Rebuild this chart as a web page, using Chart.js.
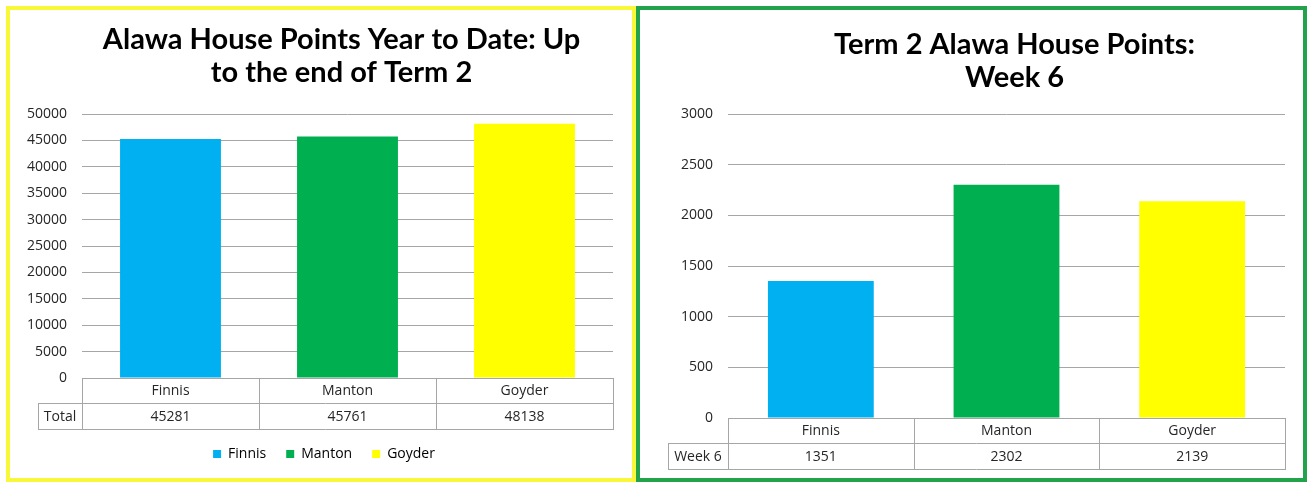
<!DOCTYPE html>
<html>
<head>
<meta charset="utf-8">
<script src="https://cdn.jsdelivr.net/npm/chart.js@4.4.0/dist/chart.umd.min.js"></script>
<style>
  html, body { margin: 0; padding: 0; background: #ffffff; }
  body { width: 1311px; height: 484px; position: relative; overflow: hidden; }
  canvas { position: absolute; top: 0; }
  .frame { position: absolute; box-sizing: border-box; pointer-events: none; }
</style>
</head>
<body>
<canvas id="c1" width="636" height="484" style="left:0px"></canvas>
<canvas id="c2" width="675" height="484" style="left:636px"></canvas>
<div class="frame" style="left:6px;top:6px;width:630px;height:476px;border:4px solid #f9f73a;"></div>
<div class="frame" style="left:636px;top:6px;width:671px;height:476px;border:4px solid #23a24c;"></div>
<script>
// ---- data ----
const categories = ['Finnis', 'Manton', 'Goyder'];
const houseColors = ['#00b0f0', '#00b050', '#ffff00'];
const totalValues = [45281, 45761, 48138];
const week6Values = [1351, 2302, 2139];
const title1 = ['Alawa House Points Year to Date: Up', 'to the end of Term 2'];
const title2 = ['Term 2 Alawa House Points:', 'Week 6'];
const rowLabel1 = 'Total';
const rowLabel2 = 'Week 6';

const gridColor = '#a6a6a6';
const textColor = '#262626';
const tickFont = { family: "'Open Sans', sans-serif", size: 14 };
const tableFontStr = "14px 'Open Sans', sans-serif";

// Title drawn centred over the plot area
const titlePlugin = {
  id: 'plotTitle',
  afterDraw(chart, args, opts) {
    const { ctx, chartArea } = chart;
    const cx = (chartArea.left + chartArea.right) / 2;
    ctx.save();
    ctx.fillStyle = '#000000';
    ctx.font = opts.font;
    ctx.textAlign = 'center';
    ctx.textBaseline = 'middle';
    opts.lines.forEach((l, i) => ctx.fillText(l, cx + opts.dx, opts.y0 + i * opts.lineGap));
    ctx.restore();
  }
};

// Nudge the legend horizontally
const legendShift = {
  id: 'legendShift',
  afterLayout(chart, args, opts) {
    if (chart.legend && opts.dx) {
      chart.legend.left += opts.dx;
      chart.legend.right += opts.dx;
    }
  }
};

// Data table under the plot (Excel style)
const tablePlugin = {
  id: 'dataTable',
  afterDraw(chart, args, opts) {
    const { ctx, chartArea } = chart;
    const { left, right, bottom } = chartArea;
    const xs = chart.scales.x;
    const vals = chart.data.datasets[0].data;
    const labels = chart.data.labels;
    const r1 = bottom + opts.rowH1;
    const r2 = r1 + opts.rowH2;
    const L = opts.labelLeft;
    const n = labels.length;
    const colW = (right - left) / n;
    const p = v => Math.round(v) + 0.5;
    ctx.save();
    ctx.strokeStyle = gridColor;
    ctx.lineWidth = 1;
    ctx.beginPath();
    ctx.moveTo(left, p(bottom)); ctx.lineTo(right, p(bottom));
    ctx.moveTo(L, p(r1)); ctx.lineTo(right, p(r1));
    ctx.moveTo(L, p(r2)); ctx.lineTo(right, p(r2));
    for (let i = 0; i <= n; i++) {
      const x = p(left + i * colW);
      ctx.moveTo(x, Math.round(bottom)); ctx.lineTo(x, Math.round(r2) + 1);
    }
    ctx.moveTo(p(L), Math.round(r1)); ctx.lineTo(p(L), Math.round(r2) + 1);
    ctx.stroke();
    ctx.fillStyle = textColor;
    ctx.font = tableFontStr;
    ctx.textAlign = 'center';
    ctx.textBaseline = 'middle';
    labels.forEach((lab, i) => {
      const x = xs.getPixelForValue(i);
      ctx.fillText(lab, x, (bottom + r1) / 2 + 1);
      ctx.fillText(String(vals[i]), x, (r1 + r2) / 2 + 1);
    });
    ctx.fillText(opts.rowLabel, (L + left) / 2, (r1 + r2) / 2 + 1);
    ctx.restore();
  }
};

function makeChart(id, values, yMax, yStep, cfg) {
  return new Chart(document.getElementById(id), {
    type: 'bar',
    data: {
      labels: categories,
      datasets: [{
        label: 'Points',
        data: values,
        backgroundColor: houseColors,
        borderWidth: 0,
        categoryPercentage: 1,
        barPercentage: 0.57
      }]
    },
    plugins: [titlePlugin, tablePlugin, legendShift],
    options: {
      responsive: false,
      animation: false,
      layout: { padding: cfg.padding },
      scales: {
        x: {
          grid: { display: false },
          border: { display: false },
          ticks: { display: false },
          afterFit: s => { s.height = cfg.xAxisH; }
        },
        y: {
          min: 0, max: yMax,
          ticks: { stepSize: yStep, font: tickFont, color: textColor, padding: 15, callback: v => String(v) },
          grid: { color: gridColor, drawTicks: false },
          border: { display: false },
          afterFit: s => { s.width = 75; }
        }
      },
      plugins: {
        tooltip: { enabled: false },
        legend: cfg.legend,
        legendShift: { dx: cfg.legendDx || 0 },
        plotTitle: { lines: cfg.title, font: "bold 29px Lato, 'Open Sans', sans-serif", y0: cfg.titleY, lineGap: 33, dx: cfg.titleDx },
        dataTable: { rowH1: 25, rowH2: 26, labelLeft: cfg.labelLeft, rowLabel: cfg.rowLabel }
      }
    }
  });
}

makeChart('c1', totalValues, 50000, 5000, {
  padding: { left: 7, right: 23, top: 114, bottom: 14 },
  xAxisH: 49,
  title: title1, titleY: 40, titleDx: -6,
  labelLeft: 38, rowLabel: rowLabel1,
  legendDx: 14,
  legend: {
    display: true,
    position: 'bottom',
    maxHeight: 43,
    labels: {
      boxWidth: 8, boxHeight: 8, padding: 20,
      color: textColor,
      font: { family: "'Open Sans', sans-serif", size: 14 },
      generateLabels: () => categories.map((c, i) => ({
        text: c, fillStyle: houseColors[i], strokeStyle: houseColors[i],
        lineWidth: 0, hidden: false, index: i
      }))
    }
  }
});

makeChart('c2', week6Values, 3000, 500, {
  padding: { left: 17, right: 26, top: 114, bottom: 0 },
  xAxisH: 66,
  title: title2, titleY: 45, titleDx: 8,
  labelLeft: 32, rowLabel: rowLabel2,
  legend: { display: false }
});
</script>
</body>
</html>
